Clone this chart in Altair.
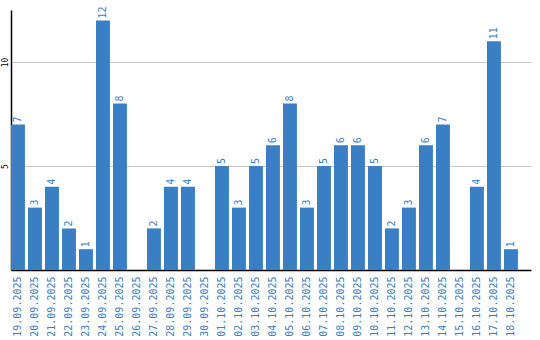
import altair as alt
import pandas as pd

dates = ["19.09.2025","20.09.2025","21.09.2025","22.09.2025","23.09.2025","24.09.2025",
         "25.09.2025","26.09.2025","27.09.2025","28.09.2025","29.09.2025","30.09.2025",
         "01.10.2025","02.10.2025","03.10.2025","04.10.2025","05.10.2025","06.10.2025",
         "07.10.2025","08.10.2025","09.10.2025","10.10.2025","11.10.2025","12.10.2025",
         "13.10.2025","14.10.2025","15.10.2025","16.10.2025","17.10.2025","18.10.2025"]
values = [7,3,4,2,1,12,8,0,2,4,4,0,5,3,5,6,8,3,5,6,6,5,2,3,6,7,0,4,11,1]

df = pd.DataFrame({"date": dates, "value": values})
BLUE = "#3a7ec3"
FONT = "DejaVu Sans Mono"

x = alt.X("date:N", sort=dates, title=None,
          scale=alt.Scale(paddingInner=0.18, paddingOuter=0.385, align=0),
          axis=alt.Axis(labelAngle=-90, labelColor=BLUE, labelFont=FONT, labelFontSize=10,
                        domainColor="black", domainWidth=1.5, ticks=False, labelPadding=6))
y = alt.Y("value:Q", title=None,
          scale=alt.Scale(domain=[0, 12.5], nice=False),
          axis=alt.Axis(values=[5, 10], labelAngle=-90, labelFont=FONT, labelFontSize=8,
                        labelColor="black", domainColor="black", domainWidth=1.5,
                        ticks=False, gridColor="#c8c8c8", labelPadding=2,
                        labelAlign="center", labelBaseline="bottom"))

bars = alt.Chart(df).mark_bar(color=BLUE).encode(x=x, y=y)
text = alt.Chart(df).transform_filter("datum.value > 0").mark_text(
    angle=270, align="left", baseline="middle", dx=2, color=BLUE, font=FONT, fontSize=10
).encode(x=alt.X("date:N", sort=dates), y="value:Q", text="value:Q")

chart = (bars + text).properties(
    width=520, height=260,
    autosize=alt.AutoSizeParams(type="none"),
    padding={"left": 11, "top": 10, "right": 9, "bottom": 70},
).configure_view(stroke=None).configure_axisX(grid=False)

chart.save("out.html", embed_options={"renderer": "svg", "actions": False})
